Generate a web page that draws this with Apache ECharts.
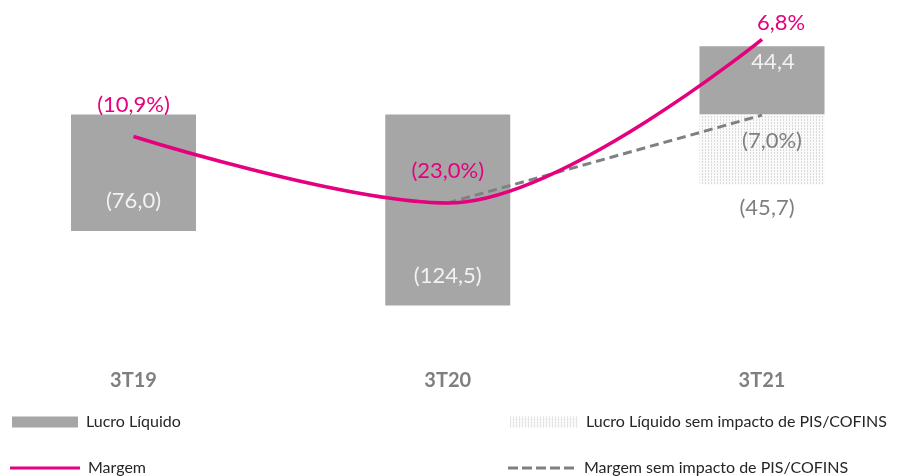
<!DOCTYPE html>
<html>
<head>
<meta charset="utf-8">
<script src="https://cdn.jsdelivr.net/npm/echarts@6/dist/echarts.min.js"></script>
<style>
  html, body { margin: 0; padding: 0; background: #fff; }
  #chart { width: 903px; height: 476px; }
</style>
</head>
<body>
<div id="chart"></div>
<script>
const categories = ['3T19', '3T20', '3T21'];
const lucro = [-76.0, -124.5, 44.4];
const lucroSemPis = [null, null, -45.7];
const margem = [-10.9, -23.0, 6.8];
const margemSemPis = [null, -23.0, -7.0];

const fontFamily = 'Lato, "Noto Sans", sans-serif';
const pink = '#e5007e';
const barGray = '#a6a6a6';
const dashGray = '#808080';
const textGray = '#7f7f7f';

// fmt: pt-BR decimal comma, negatives in parentheses
function fmt(v, suffix) {
  const s = Math.abs(v).toFixed(1).replace('.', ',') + (suffix || '');
  return v < 0 ? '(' + s + ')' : s;
}

// dotted fill for the "sem impacto" bar
function dotPattern() {
  const c = document.createElement('canvas');
  c.width = 3; c.height = 3;
  const ctx = c.getContext('2d');
  ctx.fillStyle = '#fafafa';
  ctx.fillRect(0, 0, 3, 3);
  ctx.fillStyle = '#dadada';
  ctx.fillRect(0, 0, 1, 1);
  ctx.fillRect(0, 2, 1, 1);
  return c;
}
const pattern = { image: dotPattern(), repeat: 'repeat' };

const dashIcon = 'path://M0,0h10v3h-10z M14,0h10v3h-10z M28,0h10v3h-10z M42,0h10v3h-10z M56,0h10v3h-10z';
const legendText = { fontSize: 16, color: '#262626', fontFamily: fontFamily, padding: [0, 0, 0, 3] };

function legendAt(left, top, item, w, h) {
  return {
    left: left, top: top, padding: 0, itemWidth: w, itemHeight: h, itemGap: 0,
    textStyle: legendText, selectedMode: false,
    data: [item]
  };
}

const chart = echarts.init(document.getElementById('chart'), null, { renderer: 'canvas' });

chart.setOption({
  animation: false,
  textStyle: { fontFamily: fontFamily },
  grid: { left: 133.5, right: 141, top: 30, bottom: 116, containLabel: false },
  legend: [
    legendAt(12, 414, { name: 'Lucro Líquido', icon: 'rect' }, 66, 11),
    legendAt(10, 460, { name: 'Margem', icon: 'rect', itemStyle: { color: pink } }, 70, 3),
    legendAt(510, 414, { name: 'Lucro Líquido sem impacto de PIS/COFINS', icon: 'rect' }, 68, 11),
    legendAt(508, 460, { name: 'Margem sem impacto de PIS/COFINS', icon: dashIcon, itemStyle: { color: dashGray } }, 70, 3)
  ],
  xAxis: {
    type: 'category',
    data: categories,
    boundaryGap: false,
    axisLine: { show: false },
    axisTick: { show: false },
    axisLabel: { margin: 11, fontSize: 20, fontWeight: 'bold', color: textGray, fontFamily: fontFamily }
  },
  yAxis: [
    { type: 'value', min: -160, max: 55, show: false, splitLine: { show: false } },
    { type: 'value', min: -51.6, max: 8.5, show: false, splitLine: { show: false } }
  ],
  series: [
    {
      name: 'Lucro Líquido',
      type: 'bar',
      barWidth: 125,
      barGap: '-100%',
      itemStyle: { color: barGray },
      data: lucro.map(v => ({
        value: v,
        label: {
          show: true,
          position: v < 0 ? 'insideBottom' : 'insideTop',
          distance: v < 0 ? 19 : 5,
          offset: v < 0 ? [0, 0] : [11, 0],
          color: '#f2f2f2',
          fontSize: 22,
          fontFamily: fontFamily,
          formatter: () => fmt(v)
        }
      }))
    },
    {
      name: 'Lucro Líquido sem impacto de PIS/COFINS',
      type: 'bar',
      barWidth: 125,
      barGap: '-100%',
      itemStyle: { color: pattern },
      data: lucroSemPis.map(v => v == null ? null : ({
        value: v,
        label: {
          show: true, position: 'bottom', distance: 12, offset: [5, 0],
          color: textGray, fontSize: 22, fontFamily: fontFamily,
          formatter: () => fmt(v)
        }
      }))
    },
    {
      name: 'Margem sem impacto de PIS/COFINS',
      type: 'line',
      yAxisIndex: 1,
      symbol: 'circle',
      symbolSize: 0,
      z: 3,
      lineStyle: { color: dashGray, width: 3, type: [9, 5] },
      itemStyle: { color: dashGray },
      data: margemSemPis.map((v, i) => v == null ? null : ({
        value: v,
        label: {
          show: i === 2, position: 'bottom', distance: 15, offset: [10, 0],
          color: textGray, fontSize: 22, fontFamily: fontFamily,
          formatter: () => fmt(v, '%')
        }
      }))
    },
    {
      name: 'Margem',
      type: 'line',
      yAxisIndex: 1,
      smooth: 0.34,
      symbol: 'circle',
      symbolSize: 0,
      z: 4,
      lineStyle: { color: pink, width: 3.5 },
      itemStyle: { color: pink },
      data: margem.map((v, i) => ({
        value: v,
        label: {
          show: true, position: 'top', distance: i === 2 ? 5 : 21,
          offset: i === 2 ? [19, 0] : [0, 0],
          color: pink, fontSize: 22, fontFamily: fontFamily,
          formatter: () => fmt(v, '%')
        }
      }))
    }
  ]
});
</script>
</body>
</html>
